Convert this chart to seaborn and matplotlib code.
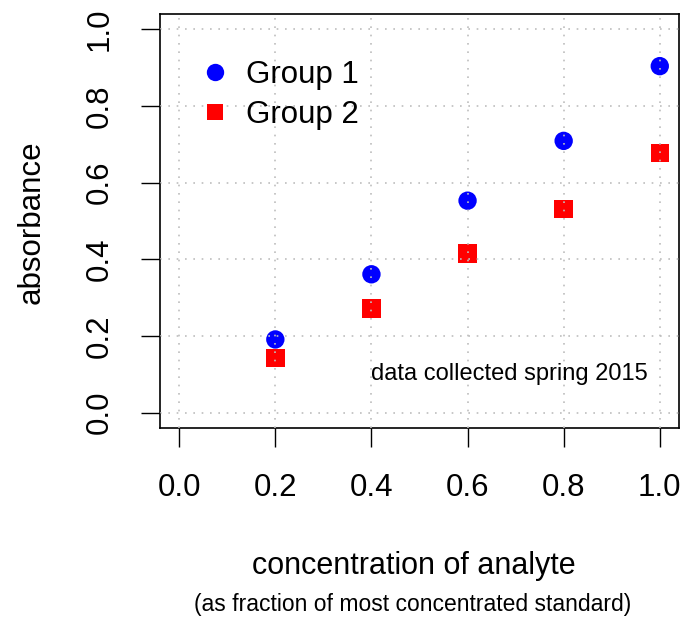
import matplotlib
matplotlib.use("Agg")
import matplotlib.pyplot as plt
import seaborn as sns
import pandas as pd
from matplotlib.lines import Line2D

conc = [0.2, 0.4, 0.6, 0.8, 1.0]
group1 = [0.191, 0.361, 0.553, 0.709, 0.904]
group2 = [0.142, 0.272, 0.415, 0.532, 0.677]
group_names = ["Group 1", "Group 2"]
ticks = [0.0, 0.2, 0.4, 0.6, 0.8, 1.0]
tick_labels = ["0.0", "0.2", "0.4", "0.6", "0.8", "1.0"]

df = pd.DataFrame({
    "conc": conc + conc,
    "abs": group1 + group2,
    "group": [group_names[0]] * len(conc) + [group_names[1]] * len(conc),
})

sns.set_style("white")
plt.rcParams["font.family"] = ["Liberation Sans", "DejaVu Sans"]
plt.rcParams["text.color"] = "black"
plt.rcParams["lines.scale_dashes"] = False

fig = plt.figure(figsize=(6.93, 6.19), dpi=100)
ax = fig.add_axes([160 / 693, 1 - 428 / 619, (679 - 160) / 693, (428 - 14) / 619])

sns.scatterplot(data=df, x="conc", y="abs", hue="group", style="group",
                palette={"Group 1": "#0000ff", "Group 2": "#ff0000"},
                markers={"Group 1": "o", "Group 2": "s"},
                s=175, linewidth=0, edgecolor="none", ax=ax, legend=False, zorder=2)

ax.set_xlim(-0.04, 1.04)
ax.set_ylim(-0.04, 1.04)
ax.set_xticks(ticks)
ax.set_xticklabels(tick_labels)
ax.set_yticks(ticks)
ax.set_yticklabels(tick_labels, rotation=90, va="center")
ax.tick_params(axis="both", direction="out", length=13.5, width=1.0,
               color="black", labelsize=22.5, labelcolor="black", pad=19,
               bottom=True, left=True)
ax.set_xlabel("")
ax.set_ylabel("")
for sp in ax.spines.values():
    sp.set_color("black")
    sp.set_linewidth(1.2)

ax.grid(True, color="#bebebe", linestyle=(0, (1.2, 4.8)), linewidth=1.2, zorder=3)
ax.set_axisbelow(False)

handles = [
    Line2D([], [], marker="o", color="#0000ff", linestyle="none", markersize=12.5, markeredgewidth=0),
    Line2D([], [], marker="s", color="#ff0000", linestyle="none", markersize=11, markeredgewidth=0),
]
leg = ax.legend(handles, group_names, loc="upper left", frameon=False,
                bbox_to_anchor=(198 / 693, 1 - 60 / 619), bbox_transform=fig.transFigure,
                borderaxespad=0, borderpad=0, handlelength=1.1, handletextpad=0.42,
                labelspacing=0.33, fontsize=22.5)

ax.text(0.686, 0.1, "data collected spring 2015", ha="center", va="center", fontsize=17)

fig.text(32 / 693, 1 - 222 / 619, "absorbance", rotation=90, ha="center", va="center", fontsize=22.5)
fig.text(414 / 693, 1 - 566 / 619, "concentration of analyte", ha="center", va="center", fontsize=22)
fig.text(413 / 693, 1 - 605 / 619, "(as fraction of most concentrated standard)", ha="center", va="center", fontsize=16.5)

fig.savefig("out.png", dpi=100)
